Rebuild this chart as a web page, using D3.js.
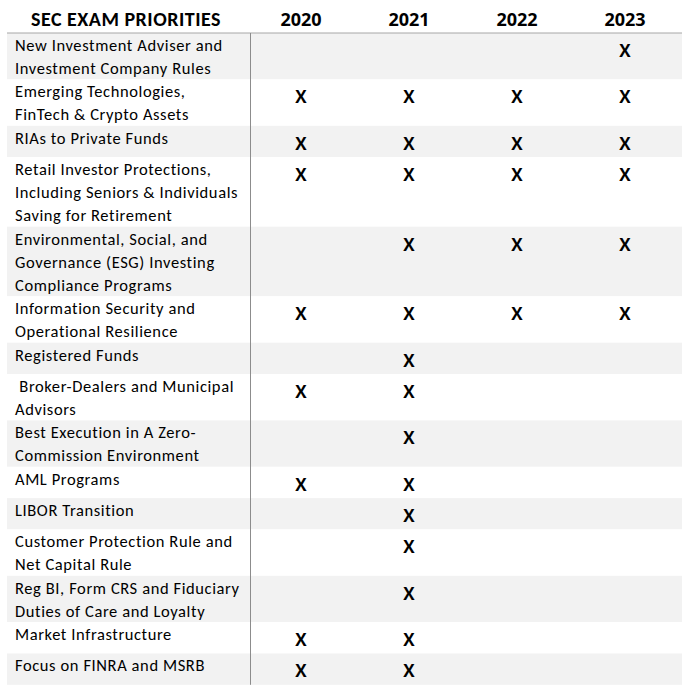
<!DOCTYPE html>
<html>
<head>
<meta charset="utf-8">
<script src="https://cdn.jsdelivr.net/npm/d3@7"></script>
<style>
body { margin: 0; background: #fff; }
text { font-family: Carlito, Calibri, Lato, sans-serif; }
</style>
</head>
<body>
<script>
var width = 692;
var height = 693;

// header + categories
var title = "SEC EXAM PRIORITIES";
var years = ["2020", "2021", "2022", "2023"];
var priorities = [
    ["New Investment Adviser and", "Investment Company Rules"],
    ["Emerging Technologies,", "FinTech & Crypto Assets"],
    ["RIAs to Private Funds"],
    ["Retail Investor Protections,", "Including Seniors & Individuals", "Saving for Retirement"],
    ["Environmental, Social, and", "Governance (ESG) Investing", "Compliance Programs"],
    ["Information Security and", "Operational Resilience"],
    ["Registered Funds"],
    [" Broker-Dealers and Municipal", "Advisors"],
    ["Best Execution in A Zero-", "Commission Environment"],
    ["AML Programs"],
    ["LIBOR Transition"],
    ["Customer Protection Rule and", "Net Capital Rule"],
    ["Reg BI, Form CRS and Fiduciary", "Duties of Care and Loyalty"],
    ["Market Infrastructure"],
    ["Focus on FINRA and MSRB"]
];

// 1 = priority listed that year
var flags2020 = [0, 1, 1, 1, 0, 1, 0, 1, 0, 1, 0, 0, 0, 1, 1];
var flags2021 = [0, 1, 1, 1, 1, 1, 1, 1, 1, 1, 1, 1, 1, 1, 1];
var flags2022 = [0, 1, 1, 1, 1, 1, 0, 0, 0, 0, 0, 0, 0, 0, 0];
var flags2023 = [1, 1, 1, 1, 1, 1, 0, 0, 0, 0, 0, 0, 0, 0, 0];

var flags = [flags2020, flags2021, flags2022, flags2023];

var svg = d3.select("body").append("svg")
    .attr("width", width)
    .attr("height", height);

var left = 7, right = 682, split = 250, headerBottom = 33;
var lineH = 23.2;

// row layout
var rows = [];
var y = headerBottom;
priorities.forEach(function (lines, i) {
    var h = lines.length === 1 ? 31.3 : lineH * lines.length;
    rows.push({lines: lines, i: i, top: y, h: h});
    y += h;
});
var tableBottom = y;

var x = d3.scaleBand()
    .domain(years)
    .range([247, 679]);

// row backgrounds
svg.append("g")
    .selectAll("rect")
    .data(rows)
    .enter().append("rect")
    .attr("x", left)
    .attr("y", function (d) { return d.top; })
    .attr("width", right - left)
    .attr("height", function (d) { return d.h; })
    .attr("fill", function (d) { return d.i % 2 === 0 ? "#f2f2f2" : "#ffffff"; });

// header
svg.append("text")
    .attr("x", 126)
    .attr("y", 26)
    .attr("text-anchor", "middle")
    .attr("font-size", 20)
    .attr("font-weight", "bold")
    .attr("letter-spacing", 0.5)
    .attr("fill", "#000")
    .text(title);

svg.append("g")
    .selectAll("text")
    .data(years)
    .enter().append("text")
    .attr("x", function (d) { return x(d) + x.bandwidth() / 2; })
    .attr("y", 26)
    .attr("text-anchor", "middle")
    .attr("font-size", 18)
    .attr("font-weight", "bold")
    .style("font-family", "'Open Sans', sans-serif")
    .attr("fill", "#000")
    .text(function (d) { return d; });

// grid lines
svg.append("line")
    .attr("x1", left).attr("x2", right)
    .attr("y1", headerBottom).attr("y2", headerBottom)
    .attr("stroke", "#a6a6a6")
    .attr("stroke-width", 1);

svg.append("line")
    .attr("x1", split + 0.5).attr("x2", split + 0.5)
    .attr("y1", headerBottom).attr("y2", tableBottom)
    .attr("stroke", "#8c8c8c")
    .attr("stroke-width", 1);

// labels
var label = svg.append("g")
    .selectAll("text")
    .data(rows)
    .enter().append("text")
    .attr("font-size", 16.5)
    .attr("letter-spacing", 0.6)
    .attr("fill", "#000")
    .attr("xml:space", "preserve")
    .style("white-space", "pre");

label.selectAll("tspan")
    .data(function (d) {
        return d.lines.map(function (l, k) { return {text: l, y: d.top + 17.8 + k * lineH}; });
    })
    .enter().append("tspan")
    .attr("x", 15)
    .attr("y", function (d) { return d.y; })
    .text(function (d) { return d.text; });

// X marks
var cells = [];
rows.forEach(function (r) {
    years.forEach(function (yr, j) {
        if (flags[j][r.i]) cells.push({year: yr, top: r.top});
    });
});

svg.append("g")
    .selectAll("text")
    .data(cells)
    .enter().append("text")
    .attr("x", function (d) { return x(d.year) + x.bandwidth() / 2; })
    .attr("y", function (d) { return d.top + 23.8; })
    .attr("text-anchor", "middle")
    .attr("font-size", 17)
    .attr("font-weight", "bold")
    .style("font-family", "'Open Sans', sans-serif")
    .attr("fill", "#000")
    .text("X");
</script>
</body>
</html>
